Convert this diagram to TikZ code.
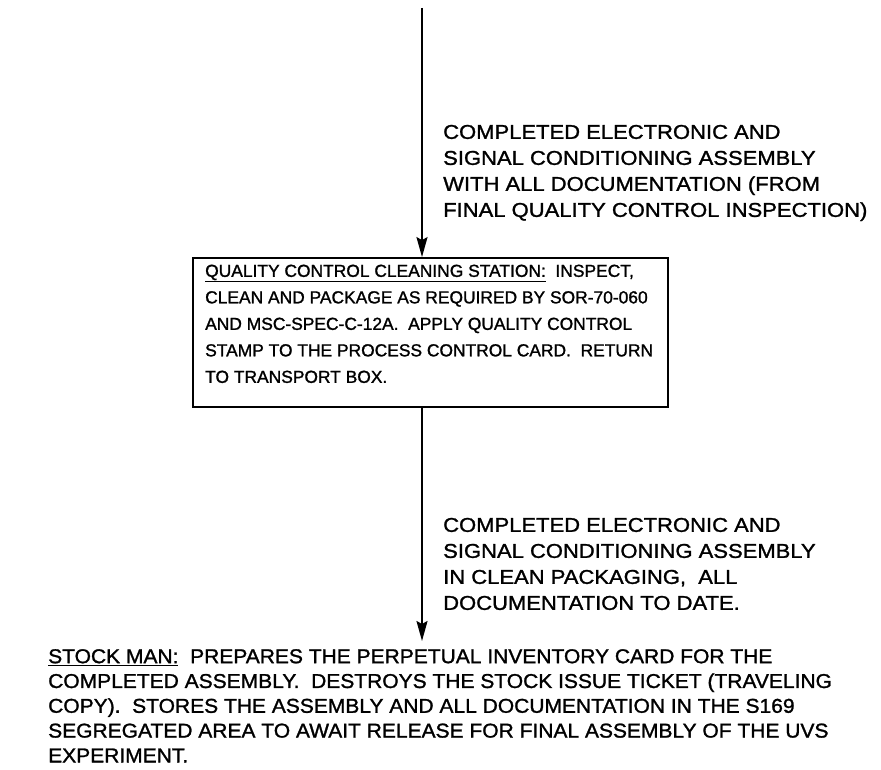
\documentclass[tikz,border=0pt]{standalone}
\usepackage{fontspec}
\setmainfont{Liberation Sans}
\newfontfamily\labelfont[FakeStretch=1.1,FakeBold=1.3]{Liberation Sans}
\newfontfamily\stationfont[FakeStretch=1.0,FakeBold=1.3]{Liberation Sans}
\newfontfamily\stockfont[FakeStretch=1.05,FakeBold=1.3]{Liberation Sans}
\usetikzlibrary{arrows.meta}
\begin{document}
\begin{tikzpicture}[x=1pt,y=-1pt,
  flow/.style={line width=2pt,-{Stealth[length=20pt,width=11pt,inset=3pt]}},
  stationbox/.style={draw,line width=1.8pt,inner sep=0pt,
    minimum width=475pt,minimum height=149pt},
  note/.style={anchor=north west,inner sep=0pt,align=left,
    font=\labelfont\fontsize{20}{26}\selectfont},
  boxtext/.style={anchor=north west,inner sep=0pt,align=left,
    font=\stationfont\fontsize{17.4}{26.5}\selectfont},
  stocktext/.style={anchor=north west,inner sep=0pt,align=left,
    font=\stockfont\fontsize{20}{24.8}\selectfont}]
  \useasboundingbox (0,0) rectangle (881,770);

  % entry point of the incoming flow
  \coordinate (src) at (422,8);

  % cleaning station box
  \node[stationbox] (qc) at (430.5,332.5) {};
  \node[boxtext] (qctext) at (205,264.5)
    {\underline{QUALITY CONTROL CLEANING STATION:}\ \ INSPECT,\\
     CLEAN AND PACKAGE AS REQUIRED BY SOR-70-060\\
     AND MSC-SPEC-C-12A.\ \ APPLY QUALITY CONTROL\\
     STAMP TO THE PROCESS CONTROL CARD.\ \ RETURN\\
     TO TRANSPORT BOX.};

  % label of the incoming flow
  \node[note] (inlabel) at (443,124.7)
    {COMPLETED ELECTRONIC AND\\
     SIGNAL CONDITIONING ASSEMBLY\\
     WITH ALL DOCUMENTATION (FROM\\
     FINAL QUALITY CONTROL INSPECTION)};

  % label of the outgoing flow
  \node[note] (outlabel) at (443,517.7)
    {COMPLETED ELECTRONIC AND\\
     SIGNAL CONDITIONING ASSEMBLY\\
     IN CLEAN PACKAGING,\ \ ALL\\
     DOCUMENTATION TO DATE.};

  % stock man step
  \coordinate (dst) at (422,641);
  \node[stocktext] (stock) at (48,649)
    {\underline{STOCK MAN:}\ \ PREPARES THE PERPETUAL INVENTORY CARD FOR THE\\
     COMPLETED ASSEMBLY.\ \ DESTROYS THE STOCK ISSUE TICKET (TRAVELING\\
     COPY).\ \ STORES THE ASSEMBLY AND ALL DOCUMENTATION IN THE S169\\
     SEGREGATED AREA TO AWAIT RELEASE FOR FINAL ASSEMBLY OF THE UVS\\
     EXPERIMENT.};

  % flows
  \draw[flow] (src) -- (src |- qc.north);
  \draw[flow] (src |- qc.south) -- (dst);
\end{tikzpicture}
\end{document}
